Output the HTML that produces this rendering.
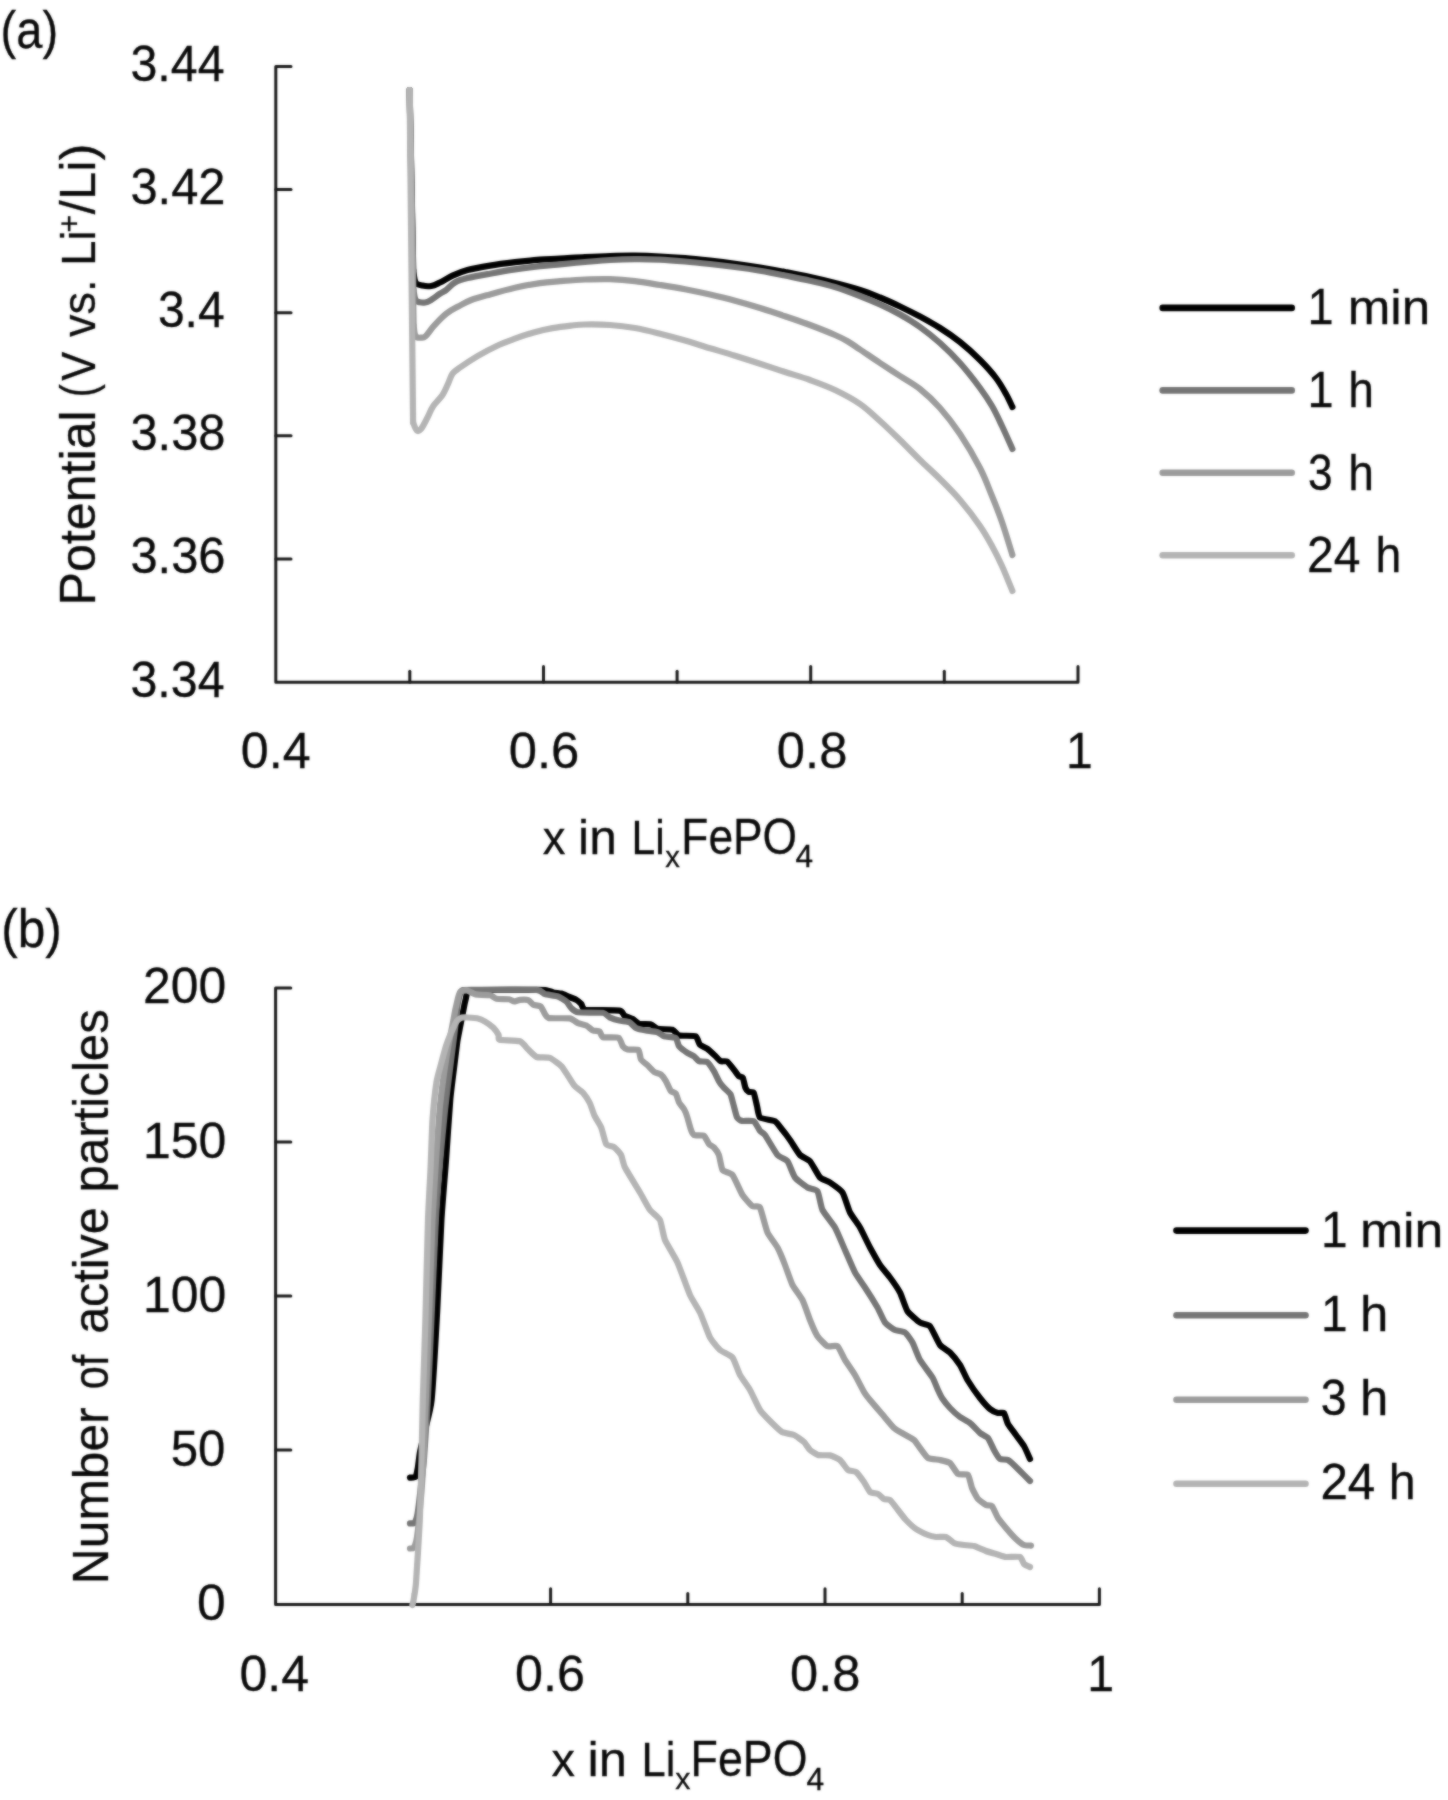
<!DOCTYPE html><html><head><meta charset="utf-8"><title>Figure</title><style>html,body{margin:0;padding:0;background:#fff}svg{display:block}text{font-family:"Liberation Sans",sans-serif;fill:#0a0a0a;stroke:#0a0a0a;stroke-width:0.3px}</style></head><body>
<svg width="1448" height="1800" viewBox="0 0 1448 1800">
<defs><filter id="soft" x="0" y="0" width="1448" height="1800" filterUnits="userSpaceOnUse" color-interpolation-filters="sRGB"><feGaussianBlur in="SourceGraphic" stdDeviation="0.8" result="b"/><feComposite in="SourceGraphic" in2="b" operator="arithmetic" k1="0" k2="0.4" k3="0.6" k4="0"/></filter></defs>
<rect width="1448" height="1800" fill="#fff"/>
<g filter="url(#soft)">
<g fill="none" stroke="#1a1a1a" stroke-width="3" stroke-linecap="round" stroke-linejoin="round">
<path d="M291.0,66.5H275.8V682.2H1078.0v-15.7" /><path d="M275.8,189.6h15.2"/><path d="M275.8,312.7h15.2"/><path d="M275.8,435.8h15.2"/><path d="M275.8,558.9h15.2"/><path d="M543.5,682.2v-15.7"/><path d="M810.7,682.2v-15.7"/><path d="M409.8,682.2v-10.9"/><path d="M677.1,682.2v-10.9"/><path d="M944.3,682.2v-10.9"/>
<path d="M290.8,988H275.6V1604.5H1099.4v-15.7" /><path d="M275.6,1142h15.2"/><path d="M275.6,1296h15.2"/><path d="M275.6,1450h15.2"/><path d="M550.6,1604.5v-15.7"/><path d="M825.0,1604.5v-15.7"/><path d="M413.4,1604.5v-10.9"/><path d="M687.8,1604.5v-10.9"/><path d="M962.2,1604.5v-10.9"/>
</g>
<g fill="none" stroke-width="6.2" stroke-linecap="round" stroke-linejoin="round">
<path d="M409.6,90L413.2,270" stroke="#000000"/><path d="M413.2,270.0C413.6,272.1 414.1,279.9 415.6,282.5C417.2,285.1 419.9,285.0 422.5,285.6C425.1,286.2 428.3,286.5 431.2,286.0C434.1,285.5 436.4,284.2 440.0,282.5C443.6,280.8 447.9,277.7 452.5,275.6C457.1,273.5 461.2,271.7 467.5,270.0C473.8,268.3 482.1,266.9 490.0,265.6C497.9,264.3 506.7,263.2 515.0,262.2C523.3,261.2 532.5,260.3 540.0,259.7C547.5,259.1 552.5,259.1 560.0,258.6C567.5,258.2 576.7,257.4 585.0,257.0C593.3,256.6 601.7,256.2 610.0,256.0C618.3,255.8 626.7,255.6 635.0,255.7C643.3,255.8 651.7,256.1 660.0,256.5C668.3,256.9 676.7,257.5 685.0,258.2C693.3,258.9 701.7,259.8 710.0,260.7C718.3,261.6 726.7,262.6 735.0,263.7C743.3,264.8 751.7,266.1 760.0,267.5C768.3,268.9 776.7,270.4 785.0,272.0C793.3,273.6 801.7,275.2 810.0,277.0C818.3,278.8 826.7,280.8 835.0,283.0C843.3,285.2 852.5,287.6 860.0,290.0C867.5,292.4 873.3,294.8 880.0,297.5C886.7,300.2 893.3,303.3 900.0,306.5C906.7,309.7 913.3,313.0 920.0,316.6C926.7,320.2 933.3,323.8 940.0,328.0C946.7,332.2 953.3,336.7 960.0,342.0C966.7,347.3 974.0,354.0 980.0,360.0C986.0,366.0 991.7,372.3 996.0,378.0C1000.3,383.7 1003.3,389.2 1006.0,394.0C1008.7,398.8 1011.3,404.8 1012.4,407.0" stroke="#000000"/>
<path d="M409.6,90L413.4,290" stroke="#767676"/><path d="M413.4,290.0C413.8,291.7 414.5,297.9 415.6,300.0C416.7,302.1 418.4,301.9 420.0,302.3C421.6,302.7 423.3,302.8 425.0,302.5C426.7,302.2 427.5,302.1 430.0,300.6C432.5,299.1 437.3,295.5 440.0,293.7C442.7,291.9 443.7,291.9 446.2,290.0C448.7,288.1 451.4,284.5 455.0,282.5C458.6,280.5 461.7,279.6 467.5,278.1C473.3,276.6 482.1,275.1 490.0,273.7C497.9,272.2 506.7,270.6 515.0,269.4C523.3,268.1 532.5,267.0 540.0,266.2C547.5,265.4 552.5,265.0 560.0,264.3C567.5,263.6 576.7,262.7 585.0,262.0C593.3,261.3 601.7,260.5 610.0,260.0C618.3,259.5 626.7,259.2 635.0,259.2C643.3,259.1 651.7,259.3 660.0,259.7C668.3,260.1 676.7,260.8 685.0,261.5C693.3,262.2 701.7,263.1 710.0,264.0C718.3,264.9 726.7,265.9 735.0,267.0C743.3,268.1 751.7,269.3 760.0,270.7C768.3,272.1 776.7,273.8 785.0,275.5C793.3,277.2 801.7,278.8 810.0,280.7C818.3,282.6 826.7,284.4 835.0,287.0C843.3,289.6 852.5,293.1 860.0,296.0C867.5,298.9 873.3,301.4 880.0,304.5C886.7,307.6 893.3,310.8 900.0,314.5C906.7,318.2 913.3,322.2 920.0,327.0C926.7,331.8 933.3,337.0 940.0,343.0C946.7,349.0 953.3,355.5 960.0,363.0C966.7,370.5 974.7,380.8 980.0,388.0C985.3,395.2 988.3,399.7 992.0,406.0C995.7,412.3 998.6,418.8 1002.0,426.0C1005.4,433.2 1010.7,445.2 1012.4,449.0" stroke="#767676"/>
<path d="M409.6,90L413.6,325" stroke="#9c9c9c"/><path d="M413.6,325.0C413.9,326.8 414.2,333.9 415.5,336.0C416.8,338.1 419.5,337.7 421.2,337.7C422.9,337.7 423.5,338.1 425.6,336.2C427.7,334.3 430.3,329.9 433.7,326.2C437.1,322.4 442.0,317.0 446.2,313.7C450.4,310.4 454.5,308.5 458.7,306.2C462.9,303.9 466.0,302.0 471.2,300.0C476.4,298.0 482.7,296.4 490.0,294.4C497.3,292.3 506.7,289.6 515.0,287.7C523.3,285.8 532.5,284.2 540.0,283.1C547.5,282.0 552.5,281.8 560.0,281.2C567.5,280.6 576.7,279.8 585.0,279.5C593.3,279.2 601.7,278.9 610.0,279.2C618.3,279.5 626.7,280.2 635.0,281.2C643.3,282.2 651.7,283.7 660.0,285.0C668.3,286.3 676.7,287.6 685.0,289.2C693.3,290.8 701.7,292.6 710.0,294.5C718.3,296.4 726.7,298.4 735.0,300.7C743.3,302.9 751.7,305.4 760.0,308.0C768.3,310.6 776.7,313.4 785.0,316.2C793.3,319.0 801.7,321.9 810.0,325.0C818.3,328.1 828.8,332.3 835.0,335.0C841.2,337.7 843.3,338.8 847.5,341.2C851.7,343.6 854.6,345.9 860.0,349.5C865.4,353.1 873.3,358.6 880.0,363.0C886.7,367.4 893.3,371.7 900.0,376.0C906.7,380.3 913.3,383.7 920.0,389.0C926.7,394.3 933.3,400.5 940.0,408.0C946.7,415.5 953.3,424.0 960.0,434.0C966.7,444.0 974.7,457.7 980.0,468.0C985.3,478.3 988.3,487.0 992.0,496.0C995.7,505.0 998.6,512.2 1002.0,522.0C1005.4,531.8 1010.7,549.5 1012.4,555.0" stroke="#9c9c9c"/>
<path d="M409.6,90L413.1,422.5" stroke="#b4b4b4"/><path d="M413.1,422.5C413.7,423.9 415.5,429.6 416.9,430.6C418.2,431.6 419.4,430.9 421.2,428.7C423.0,426.5 425.5,421.2 427.5,417.5C429.5,413.8 430.6,409.9 433.1,406.2C435.6,402.4 440.0,398.8 442.5,395.0C445.0,391.2 446.4,387.2 448.1,383.7C449.8,380.1 450.5,376.4 452.5,373.7C454.5,371.0 455.8,370.4 460.0,367.5C464.2,364.6 471.5,359.8 477.5,356.2C483.5,352.6 489.9,349.1 496.2,346.2C502.4,343.3 508.8,341.0 515.0,338.7C521.2,336.4 527.5,334.3 533.7,332.5C540.0,330.7 546.3,329.2 552.5,328.1C558.7,327.0 565.6,326.2 571.0,325.6C576.4,325.0 578.5,324.6 585.0,324.5C591.5,324.4 601.7,324.4 610.0,325.0C618.3,325.6 626.7,326.6 635.0,328.0C643.3,329.4 651.7,331.6 660.0,333.7C668.3,335.8 676.7,338.1 685.0,340.5C693.3,342.9 701.7,345.7 710.0,348.2C718.3,350.7 726.7,353.1 735.0,355.7C743.3,358.3 751.7,361.0 760.0,363.7C768.3,366.4 776.7,369.3 785.0,372.0C793.3,374.7 801.7,377.0 810.0,380.0C818.3,383.0 826.7,386.0 835.0,390.0C843.3,394.0 852.5,398.8 860.0,404.0C867.5,409.2 873.3,415.0 880.0,421.0C886.7,427.0 893.3,433.5 900.0,440.0C906.7,446.5 913.3,453.5 920.0,460.0C926.7,466.5 933.3,472.3 940.0,479.0C946.7,485.7 953.3,492.2 960.0,500.0C966.7,507.8 974.7,518.3 980.0,526.0C985.3,533.7 988.3,539.3 992.0,546.0C995.7,552.7 998.6,558.5 1002.0,566.0C1005.4,573.5 1010.7,586.8 1012.4,591.0" stroke="#b4b4b4"/>
<path d="M410.0,1477.6C410.5,1477.5 414.9,1477.8 415.5,1477.0C416.1,1476.2 417.4,1470.1 417.8,1468.0C418.2,1465.9 419.4,1455.2 420.0,1452.0C420.6,1448.8 424.0,1434.3 425.0,1430.0C426.0,1425.7 430.6,1410.0 431.6,1400.0C432.6,1390.0 436.4,1325.0 437.2,1310.0C438.0,1295.0 440.7,1232.5 441.4,1220.0C442.1,1207.5 445.3,1170.1 446.0,1160.0C446.7,1149.9 449.6,1106.7 450.3,1099.0C451.0,1091.3 453.4,1072.8 454.0,1068.0C454.6,1063.2 456.7,1045.6 457.2,1042.0C457.7,1038.4 460.0,1027.5 460.5,1024.7C461.0,1022.0 463.2,1011.2 463.6,1009.0C464.0,1006.8 465.4,1000.3 465.8,998.8C466.2,997.3 466.8,991.2 468.0,990.5C469.2,989.8 474.1,990.0 480.0,990.0C485.9,990.0 532.7,989.9 538.2,989.9C543.7,989.9 545.2,990.0 546.5,990.2C547.8,990.4 552.0,992.1 553.2,992.4C554.4,992.7 560.2,993.3 561.4,993.6C562.6,993.9 566.9,996.0 568.1,996.5C569.4,997.0 575.3,999.3 576.4,999.9C577.5,1000.5 580.5,1003.2 581.3,1004.0C582.1,1004.8 582.3,1009.2 585.5,1009.8C588.7,1010.3 616.3,1010.1 619.5,1010.6C622.7,1011.1 623.3,1014.9 624.4,1015.6C625.5,1016.3 631.5,1018.2 632.7,1018.9C633.9,1019.6 637.8,1023.4 639.3,1023.9C640.8,1024.4 649.4,1024.0 650.9,1024.4C652.4,1024.8 655.8,1028.5 657.6,1028.9C659.4,1029.3 670.7,1029.2 672.5,1029.7C674.3,1030.2 677.2,1035.0 679.1,1035.5C681.0,1036.0 694.0,1035.5 695.7,1036.3C697.4,1037.1 698.8,1043.6 699.8,1044.6C700.8,1045.6 706.0,1047.8 707.3,1048.8C708.6,1049.8 714.5,1055.2 715.6,1056.2C716.7,1057.2 719.6,1060.8 720.6,1061.2C721.6,1061.6 726.1,1060.8 727.2,1061.5C728.3,1062.2 732.8,1068.3 733.8,1069.5C734.8,1070.7 738.0,1075.4 738.8,1076.1C739.6,1076.8 742.4,1076.8 742.9,1077.8C743.4,1078.8 744.9,1086.5 745.4,1087.7C745.9,1088.9 748.0,1091.5 748.7,1091.9C749.4,1092.3 753.0,1091.5 753.7,1092.7C754.4,1093.9 756.5,1103.8 757.0,1105.9C757.5,1108.0 758.5,1116.2 760.0,1117.5C761.5,1118.8 773.1,1120.2 775.0,1121.2C776.9,1122.2 781.2,1128.4 782.5,1130.0C783.8,1131.6 788.5,1137.9 790.0,1140.0C791.5,1142.1 798.3,1153.2 800.0,1155.0C801.7,1156.8 808.3,1159.3 810.0,1161.2C811.7,1163.1 818.3,1175.7 820.0,1177.5C821.7,1179.3 828.1,1181.2 830.0,1182.5C831.9,1183.8 840.8,1190.0 842.5,1192.5C844.2,1195.0 848.5,1209.6 850.0,1212.5C851.5,1215.4 858.3,1224.6 860.0,1227.5C861.7,1230.4 868.3,1244.4 870.0,1247.5C871.7,1250.6 878.3,1262.5 880.0,1265.0C881.7,1267.5 888.3,1275.2 890.0,1277.5C891.7,1279.8 898.5,1289.7 900.0,1292.5C901.5,1295.3 905.8,1308.7 907.5,1311.2C909.2,1313.7 918.1,1321.2 920.0,1322.5C921.9,1323.8 928.3,1324.3 930.0,1326.2C931.7,1328.1 938.3,1342.8 940.0,1345.0C941.7,1347.2 948.3,1350.8 950.0,1352.5C951.7,1354.2 958.5,1362.7 960.0,1365.0C961.5,1367.3 965.8,1377.2 967.5,1380.0C969.2,1382.8 978.1,1395.6 980.0,1398.0C981.9,1400.4 988.5,1407.8 990.0,1409.0C991.5,1410.2 996.8,1412.7 998.0,1413.0C999.2,1413.3 1003.2,1412.1 1004.0,1413.0C1004.8,1413.9 1007.0,1422.2 1008.0,1424.0C1009.0,1425.8 1014.7,1433.2 1016.0,1435.0C1017.3,1436.8 1022.8,1444.0 1024.0,1446.0C1025.2,1448.0 1029.5,1457.9 1030.0,1459.0" stroke="#000000"/>
<path d="M410.0,1523.4C410.4,1523.4 413.9,1523.6 414.5,1522.8C415.1,1522.0 417.0,1516.7 417.5,1514.0C418.0,1511.3 420.0,1494.5 420.5,1490.0C421.0,1485.5 423.3,1467.5 423.9,1460.0C424.5,1452.5 427.1,1412.5 427.8,1400.0C428.5,1387.5 431.1,1325.0 431.8,1310.0C432.5,1295.0 435.1,1232.5 435.8,1220.0C436.5,1207.5 439.4,1169.2 440.2,1160.0C441.0,1150.8 444.2,1117.1 445.0,1110.0C445.8,1102.9 448.5,1080.4 449.2,1075.0C449.9,1069.6 452.4,1049.4 453.0,1045.0C453.6,1040.6 455.4,1025.3 455.8,1022.0C456.2,1018.7 457.1,1007.3 457.5,1005.0C457.9,1002.7 459.6,995.2 460.0,994.0C460.4,992.8 461.1,990.4 462.8,990.0C464.5,989.6 473.9,989.8 480.0,989.8C486.1,989.8 531.2,989.5 536.6,989.9C542.0,990.3 543.1,993.6 544.9,994.1C546.7,994.6 556.3,995.9 558.1,996.5C559.9,997.1 565.3,1000.5 566.4,1001.5C567.5,1002.5 570.4,1007.3 571.4,1008.2C572.4,1009.1 575.4,1011.9 578.0,1012.3C580.6,1012.7 600.3,1012.4 602.9,1012.8C605.5,1013.2 608.1,1016.6 609.5,1017.3C610.9,1017.9 617.8,1020.2 619.5,1020.6C621.2,1021.0 628.0,1021.6 629.4,1022.2C630.8,1022.8 634.6,1027.3 636.0,1028.0C637.4,1028.7 644.2,1030.2 646.0,1030.5C647.8,1030.8 656.1,1031.7 657.6,1032.2C659.1,1032.7 662.7,1035.8 664.2,1036.3C665.7,1036.8 674.6,1037.2 675.8,1038.0C677.0,1038.8 678.1,1045.1 679.1,1046.3C680.1,1047.5 686.2,1052.1 687.4,1052.9C688.6,1053.7 693.0,1055.5 694.0,1056.2C695.0,1056.9 697.9,1060.7 699.0,1061.2C700.1,1061.7 706.1,1061.2 707.3,1062.0C708.5,1062.8 712.9,1069.5 713.9,1071.1C714.9,1072.7 718.1,1079.7 718.9,1081.1C719.7,1082.5 722.9,1086.6 723.9,1087.7C724.9,1088.8 729.7,1092.8 730.5,1094.3C731.3,1095.8 733.2,1104.0 733.8,1105.9C734.3,1107.8 736.4,1116.2 737.1,1117.5C737.8,1118.8 740.7,1120.6 742.1,1120.9C743.5,1121.2 752.2,1120.4 753.7,1121.2C755.2,1122.0 759.1,1129.6 760.0,1130.8C760.9,1132.0 763.5,1133.0 765.0,1135.0C766.5,1137.0 775.6,1152.8 777.5,1155.0C779.4,1157.2 786.0,1159.3 787.5,1161.2C789.0,1163.1 793.3,1175.3 795.0,1177.5C796.7,1179.7 805.6,1186.4 807.5,1187.5C809.4,1188.6 816.2,1189.3 817.5,1191.2C818.8,1193.1 821.0,1207.0 822.5,1210.0C824.0,1213.0 833.1,1224.2 835.0,1227.5C836.9,1230.8 843.3,1246.2 845.0,1250.0C846.7,1253.8 853.3,1269.4 855.0,1272.5C856.7,1275.6 863.1,1284.6 865.0,1287.5C866.9,1290.4 875.8,1304.6 877.5,1307.5C879.2,1310.4 883.5,1320.6 885.0,1322.5C886.5,1324.4 893.3,1329.2 895.0,1330.0C896.7,1330.8 903.5,1331.5 905.0,1332.5C906.5,1333.5 911.2,1340.2 912.5,1342.5C913.8,1344.8 918.3,1357.1 920.0,1360.0C921.7,1362.9 931.0,1375.0 932.5,1377.5C934.0,1380.0 937.2,1388.3 938.0,1390.0C938.8,1391.7 941.0,1396.5 942.0,1398.0C943.0,1399.5 948.5,1406.4 950.0,1408.0C951.5,1409.6 958.3,1415.8 960.0,1417.0C961.7,1418.2 968.3,1421.7 970.0,1423.0C971.7,1424.3 978.5,1431.8 980.0,1433.0C981.5,1434.2 986.8,1436.6 988.0,1438.0C989.2,1439.4 993.0,1448.2 994.0,1450.0C995.0,1451.8 998.8,1458.2 1000.0,1459.0C1001.2,1459.8 1006.5,1459.2 1008.0,1460.0C1009.5,1460.8 1016.2,1467.2 1018.0,1469.0C1019.8,1470.8 1029.0,1480.0 1030.0,1481.0" stroke="#767676"/>
<path d="M410.0,1548.5C410.3,1548.5 413.0,1548.6 413.5,1548.0C414.0,1547.4 415.8,1543.3 416.3,1541.0C416.8,1538.7 418.6,1524.2 419.0,1520.0C419.4,1515.8 421.2,1495.0 421.6,1490.0C422.0,1485.0 423.0,1467.5 423.4,1460.0C423.8,1452.5 425.3,1412.5 425.8,1400.0C426.3,1387.5 428.6,1325.0 429.2,1310.0C429.8,1295.0 431.9,1232.5 432.5,1220.0C433.1,1207.5 435.4,1169.2 436.0,1160.0C436.6,1150.8 439.0,1117.1 439.6,1110.0C440.2,1102.9 443.1,1080.2 443.8,1075.0C444.5,1069.8 447.5,1051.2 448.2,1047.0C448.9,1042.8 451.9,1028.2 452.5,1025.0C453.1,1021.8 455.0,1011.2 455.5,1009.0C456.0,1006.8 457.6,999.5 458.0,998.0C458.4,996.5 459.8,992.1 460.5,991.5C461.2,990.9 465.9,990.3 467.0,990.5C468.1,990.7 472.8,993.2 473.7,993.6C474.6,994.0 476.5,994.6 477.9,994.7C479.3,994.8 488.8,994.9 490.3,995.2C491.9,995.5 494.9,998.5 496.5,998.8C498.1,999.1 507.5,999.1 509.0,999.3C510.5,999.5 513.2,1001.4 514.1,1001.4C515.0,1001.4 518.8,1000.0 520.0,999.9C521.2,999.8 527.2,999.8 528.3,1000.2C529.4,1000.6 532.3,1004.3 533.3,1004.8C534.3,1005.3 539.7,1005.7 540.7,1006.5C541.7,1007.3 544.2,1013.0 544.9,1014.0C545.6,1015.0 546.9,1017.7 549.0,1018.1C551.1,1018.5 567.3,1018.0 569.7,1018.4C572.1,1018.8 576.6,1022.5 578.0,1023.1C579.4,1023.7 585.1,1025.0 586.3,1025.6C587.5,1026.2 591.8,1030.0 592.9,1030.5C594.0,1031.0 598.8,1030.8 599.6,1031.4C600.4,1032.0 601.3,1036.7 602.9,1037.2C604.5,1037.7 616.9,1036.9 618.6,1037.7C620.3,1038.5 622.0,1045.3 622.8,1046.3C623.6,1047.3 626.4,1049.3 627.7,1049.6C629.0,1049.9 637.4,1049.1 638.5,1049.9C639.6,1050.7 640.2,1058.2 641.0,1059.5C641.8,1060.8 646.5,1064.3 647.6,1065.3C648.7,1066.3 653.2,1071.2 654.3,1072.0C655.4,1072.8 659.9,1073.7 660.9,1074.5C661.9,1075.3 665.1,1079.7 665.9,1081.1C666.7,1082.5 670.0,1090.0 670.8,1091.0C671.6,1092.0 675.1,1092.5 675.8,1093.5C676.5,1094.5 678.4,1101.3 679.1,1102.6C679.8,1103.9 683.4,1108.1 684.1,1109.3C684.8,1110.5 686.9,1115.8 687.4,1117.5C687.9,1119.2 690.2,1127.6 690.7,1129.1C691.2,1130.6 692.9,1134.4 694.0,1135.0C695.1,1135.6 702.8,1135.0 704.0,1135.8C705.2,1136.6 708.2,1143.1 709.0,1144.1C709.8,1145.1 713.1,1146.5 713.9,1147.4C714.7,1148.3 718.2,1153.1 718.9,1155.0C719.6,1156.9 721.4,1168.3 722.5,1170.0C723.6,1171.7 730.8,1172.9 732.5,1175.0C734.2,1177.1 740.8,1192.4 742.5,1195.0C744.2,1197.6 751.0,1205.2 752.5,1206.2C754.0,1207.2 758.8,1205.3 760.0,1207.5C761.2,1209.7 766.0,1229.2 767.5,1232.5C769.0,1235.8 776.0,1244.8 777.5,1247.5C779.0,1250.2 783.8,1261.9 785.0,1265.0C786.2,1268.1 791.0,1282.1 792.5,1285.0C794.0,1287.9 801.0,1297.1 802.5,1300.0C804.0,1302.9 808.8,1317.0 810.0,1320.0C811.2,1323.0 816.0,1334.0 817.5,1336.2C819.0,1338.4 825.8,1345.4 827.5,1346.2C829.2,1347.0 836.0,1345.0 837.5,1346.2C839.0,1347.4 843.5,1357.6 845.0,1360.0C846.5,1362.4 853.4,1372.3 855.0,1375.0C856.6,1377.7 862.8,1389.9 864.0,1392.0C865.2,1394.1 868.5,1398.2 870.0,1400.0C871.5,1401.8 880.0,1411.7 882.0,1414.0C884.0,1416.3 892.3,1426.4 894.0,1428.0C895.7,1429.6 900.3,1432.0 902.0,1433.0C903.7,1434.0 912.5,1438.8 914.0,1440.0C915.5,1441.2 918.8,1446.5 920.0,1448.0C921.2,1449.5 926.3,1457.0 928.0,1458.0C929.7,1459.0 938.2,1459.6 940.0,1460.0C941.8,1460.4 948.5,1461.8 950.0,1463.0C951.5,1464.2 956.5,1473.0 958.0,1474.0C959.5,1475.0 966.8,1473.8 968.0,1475.0C969.2,1476.2 971.2,1486.0 972.0,1488.0C972.8,1490.0 976.8,1497.6 978.0,1499.0C979.2,1500.4 984.8,1504.4 986.0,1505.0C987.2,1505.6 991.0,1504.9 992.0,1506.0C993.0,1507.1 996.8,1516.2 998.0,1518.0C999.2,1519.8 1004.5,1526.2 1006.0,1528.0C1007.5,1529.8 1014.5,1537.6 1016.0,1539.0C1017.5,1540.4 1022.8,1544.5 1024.0,1545.0C1025.2,1545.5 1030.4,1545.5 1031.0,1545.6" stroke="#9c9c9c"/>
<path d="M412.4,1605.0C412.5,1604.6 413.3,1601.8 413.6,1600.0C413.9,1598.2 415.5,1589.5 416.0,1583.0C416.5,1576.5 419.2,1532.2 419.7,1522.0C420.2,1511.8 421.2,1471.2 421.5,1461.0C421.8,1450.8 422.5,1411.8 422.8,1400.0C423.1,1388.2 425.0,1335.0 425.4,1320.0C425.8,1305.0 427.6,1232.5 428.0,1220.0C428.4,1207.5 430.1,1178.3 430.5,1170.0C430.9,1161.7 432.0,1127.3 432.5,1120.0C433.0,1112.7 435.8,1086.5 436.5,1082.0C437.2,1077.5 439.7,1069.0 440.5,1066.0C441.3,1063.0 445.1,1048.8 446.0,1046.0C446.9,1043.2 450.1,1035.1 451.0,1033.0C451.9,1030.9 456.1,1022.3 457.0,1021.0C457.9,1019.7 461.1,1017.8 462.0,1017.5C462.9,1017.2 466.2,1017.4 467.5,1017.5C468.8,1017.6 476.4,1018.2 477.9,1018.5C479.4,1018.8 483.8,1020.8 485.1,1021.6C486.4,1022.4 492.3,1026.7 493.4,1027.8C494.5,1028.9 498.1,1034.0 498.6,1035.0C499.1,1036.0 497.8,1039.2 499.6,1039.7C501.4,1040.2 517.6,1040.5 520.0,1041.3C522.4,1042.1 526.9,1048.3 528.3,1049.6C529.7,1050.9 534.8,1056.3 536.6,1057.0C538.4,1057.7 547.7,1057.1 549.8,1057.9C551.9,1058.7 559.9,1064.7 561.4,1066.2C562.9,1067.7 567.0,1074.4 568.1,1076.1C569.2,1077.8 573.5,1084.7 574.7,1086.1C575.9,1087.5 581.8,1091.3 583.0,1092.7C584.2,1094.1 588.6,1100.7 589.6,1102.6C590.6,1104.5 593.6,1113.8 594.6,1115.9C595.6,1118.0 600.2,1125.2 601.2,1127.5C602.2,1129.8 605.1,1142.4 606.2,1144.1C607.3,1145.8 613.3,1146.5 614.5,1147.4C615.7,1148.3 620.2,1153.3 621.1,1155.0C622.0,1156.7 623.4,1164.4 625.0,1167.5C626.6,1170.6 637.9,1189.0 640.0,1192.5C642.1,1196.0 648.3,1207.7 650.0,1210.0C651.7,1212.3 658.8,1217.5 660.0,1220.0C661.2,1222.5 663.5,1236.5 665.0,1240.0C666.5,1243.5 675.4,1257.9 677.5,1262.5C679.6,1267.1 688.1,1290.8 690.0,1295.0C691.9,1299.2 698.3,1309.0 700.0,1312.5C701.7,1316.0 708.3,1334.4 710.0,1337.5C711.7,1340.6 718.1,1348.3 720.0,1350.0C721.9,1351.7 730.8,1355.4 732.5,1357.5C734.2,1359.6 738.5,1372.3 740.0,1375.0C741.5,1377.7 748.3,1387.1 750.0,1390.0C751.7,1392.9 758.3,1407.4 760.0,1410.0C761.7,1412.6 768.2,1419.2 770.0,1421.0C771.8,1422.8 780.0,1430.8 782.0,1432.0C784.0,1433.2 792.2,1434.2 794.0,1435.0C795.8,1435.8 802.7,1440.8 804.0,1442.0C805.3,1443.2 808.8,1448.9 810.0,1450.0C811.2,1451.1 816.3,1454.5 818.0,1455.0C819.7,1455.5 828.2,1455.0 830.0,1455.4C831.8,1455.8 838.5,1458.8 840.0,1460.0C841.5,1461.2 846.7,1469.0 848.0,1470.0C849.3,1471.0 854.7,1471.0 856.0,1472.0C857.3,1473.0 862.8,1480.3 864.0,1482.0C865.2,1483.7 868.8,1491.0 870.0,1492.0C871.2,1493.0 876.8,1493.4 878.0,1494.0C879.2,1494.6 883.0,1498.5 884.0,1499.0C885.0,1499.5 888.8,1499.1 890.0,1500.0C891.2,1500.9 896.7,1508.3 898.0,1510.0C899.3,1511.7 904.5,1518.4 906.0,1520.0C907.5,1521.6 914.2,1527.8 916.0,1529.0C917.8,1530.2 926.3,1534.3 928.0,1535.0C929.7,1535.7 934.5,1536.8 936.0,1537.0C937.5,1537.2 944.5,1536.5 946.0,1537.0C947.5,1537.5 952.5,1542.3 954.0,1543.0C955.5,1543.7 962.3,1544.8 964.0,1545.0C965.7,1545.2 972.2,1545.5 974.0,1546.0C975.8,1546.5 984.2,1550.3 986.0,1551.0C987.8,1551.7 994.3,1553.5 996.0,1554.0C997.7,1554.5 1004.0,1556.8 1006.0,1557.0C1008.0,1557.2 1018.5,1556.4 1020.0,1557.0C1021.5,1557.6 1023.2,1563.2 1024.0,1564.0C1024.8,1564.8 1029.5,1566.8 1030.0,1567.0" stroke="#b4b4b4"/>
<path d="M1162.7,307.9H1291.7" stroke="#000000" stroke-width="6.6"/>
<path d="M1162.7,390.4H1291.7" stroke="#767676" stroke-width="6.6"/>
<path d="M1162.7,472.7H1291.7" stroke="#9c9c9c" stroke-width="6.6"/>
<path d="M1162.7,555.3H1291.7" stroke="#b4b4b4" stroke-width="6.6"/>
<path d="M1176.5,1230.6H1305.5" stroke="#000000" stroke-width="6.6"/>
<path d="M1176.5,1315.3H1305.5" stroke="#767676" stroke-width="6.6"/>
<path d="M1176.5,1399.8H1305.5" stroke="#9c9c9c" stroke-width="6.6"/>
<path d="M1176.5,1483.8H1305.5" stroke="#b4b4b4" stroke-width="6.6"/>
</g>
<g>
<text transform="translate(0.57,48.30) scale(0.9418,1.0472)" font-size="50">(a)</text>
<text transform="translate(130.47,81.00) scale(0.9665,0.9943)" font-size="50">3.44</text>
<text transform="translate(130.45,204.10) scale(0.9769,0.9943)" font-size="50">3.42</text>
<text transform="translate(157.88,327.20) scale(0.9614,0.9943)" font-size="50">3.4</text>
<text transform="translate(130.45,450.30) scale(0.9769,0.9943)" font-size="50">3.38</text>
<text transform="translate(130.45,573.40) scale(0.9769,0.9943)" font-size="50">3.36</text>
<text transform="translate(130.47,696.70) scale(0.9665,0.9943)" font-size="50">3.34</text>
<text transform="translate(240.79,768.40) scale(1.0045,0.9943)" font-size="50">0.4</text>
<text transform="translate(508.77,768.40) scale(1.0154,0.9943)" font-size="50">0.6</text>
<text transform="translate(776.87,768.40) scale(1.0138,0.9943)" font-size="50">0.8</text>
<text transform="translate(1066.05,768.40) scale(0.9619,0.9943)" font-size="50">1</text>
<text transform="translate(542.69,854.40) scale(0.9087,0.9222)" font-size="50">x</text>
<text transform="translate(578.12,854.40) scale(0.9939,0.9528)" font-size="50">in</text>
<text transform="translate(631.48,854.40) scale(0.8548,0.9528)" font-size="50">Li</text>
<text transform="translate(665.19,866.90) scale(0.9143,0.9176)" font-size="32">x</text>
<text transform="translate(681.35,854.40) scale(0.8863,0.9971)" font-size="50">FePO</text>
<text transform="translate(795.51,866.90) scale(0.9875,0.9682)" font-size="32">4</text>
<text transform="translate(1307.55,324.00) scale(0.9381,0.9943)" font-size="50">1</text>
<text transform="translate(1347.73,324.00) scale(1.0230,0.9528)" font-size="50">min</text>
<text transform="translate(1307.55,407.00) scale(0.9381,0.9943)" font-size="50">1</text>
<text transform="translate(1348.23,407.00) scale(0.9227,1.0083)" font-size="50">h</text>
<text transform="translate(1308.03,489.50) scale(0.8833,0.9943)" font-size="50">3</text>
<text transform="translate(1348.23,489.50) scale(0.9227,1.0083)" font-size="50">h</text>
<text transform="translate(1306.92,572.00) scale(0.9608,0.9943)" font-size="50">24</text>
<text transform="translate(1375.52,572.00) scale(0.9273,1.0083)" font-size="50">h</text>
<text transform="translate(94.80,605.41) rotate(-90) scale(1.0027,1.0083)" font-size="50">Potential</text>
<text transform="translate(94.80,397.25) rotate(-90) scale(0.7846,1.0139)" font-size="50">(</text>
<text transform="translate(94.80,380.80) rotate(-90) scale(0.8667,0.9800)" font-size="50">V</text>
<text transform="translate(94.80,337.10) rotate(-90) scale(0.9000,0.9222)" font-size="50">vs.</text>
<text transform="translate(94.80,265.73) rotate(-90) scale(0.9065,0.9528)" font-size="50">Li</text>
<text transform="translate(79.62,232.58) rotate(-90) scale(0.8412,0.8722)" font-size="36">+</text>
<text transform="translate(94.80,214.20) rotate(-90) scale(1.0152,1.0139)" font-size="50">/Li)</text>
<text transform="translate(1.22,947.20) scale(0.9927,1.0611)" font-size="50">(b)</text>
<text transform="translate(143.11,1003.25) scale(0.9974,0.9943)" font-size="50">200</text>
<text transform="translate(142.90,1157.50) scale(1.0000,0.9943)" font-size="50">150</text>
<text transform="translate(142.90,1311.70) scale(1.0000,0.9943)" font-size="50">100</text>
<text transform="translate(170.73,1465.80) scale(0.9846,0.9943)" font-size="50">50</text>
<text transform="translate(197.03,1620.00) scale(1.0333,0.9943)" font-size="50">0</text>
<text transform="translate(239.50,1691.00) scale(1.0000,0.9943)" font-size="50">0.4</text>
<text transform="translate(515.09,1691.00) scale(1.0062,0.9943)" font-size="50">0.6</text>
<text transform="translate(790.08,1691.00) scale(1.0123,0.9943)" font-size="50">0.8</text>
<text transform="translate(1087.23,1691.00) scale(0.9667,0.9943)" font-size="50">1</text>
<text transform="translate(551.56,1776.40) scale(0.9391,0.9222)" font-size="50">x</text>
<text transform="translate(587.45,1776.40) scale(1.0152,0.9528)" font-size="50">in</text>
<text transform="translate(641.52,1776.40) scale(0.8710,0.9528)" font-size="50">Li</text>
<text transform="translate(675.25,1789.20) scale(0.9500,0.9176)" font-size="32">x</text>
<text transform="translate(690.62,1776.40) scale(0.8952,0.9971)" font-size="50">FePO</text>
<text transform="translate(806.51,1789.60) scale(0.9937,0.9682)" font-size="32">4</text>
<text transform="translate(1321.07,1246.80) scale(0.9571,0.9943)" font-size="50">1</text>
<text transform="translate(1359.89,1246.80) scale(1.0365,0.9528)" font-size="50">min</text>
<text transform="translate(1321.07,1330.80) scale(0.9571,0.9943)" font-size="50">1</text>
<text transform="translate(1359.95,1330.80) scale(1.0182,1.0083)" font-size="50">h</text>
<text transform="translate(1320.84,1414.90) scale(0.9292,0.9943)" font-size="50">3</text>
<text transform="translate(1359.95,1414.90) scale(1.0182,1.0083)" font-size="50">h</text>
<text transform="translate(1320.44,1499.30) scale(0.9863,0.9943)" font-size="50">24</text>
<text transform="translate(1388.80,1499.30) scale(0.9682,1.0083)" font-size="50">h</text>
<text transform="translate(108.00,1584.18) rotate(-90) scale(0.9948,1.0083)" font-size="50">Number</text>
<text transform="translate(108.00,1389.36) rotate(-90) scale(0.8300,1.0083)" font-size="50">of</text>
<text transform="translate(108.00,1333.84) rotate(-90) scale(0.9683,1.0083)" font-size="50">active</text>
<text transform="translate(108.00,1192.45) rotate(-90) scale(0.9845,1.0083)" font-size="50">particles</text>
</g>
</g>
</svg></body></html>
